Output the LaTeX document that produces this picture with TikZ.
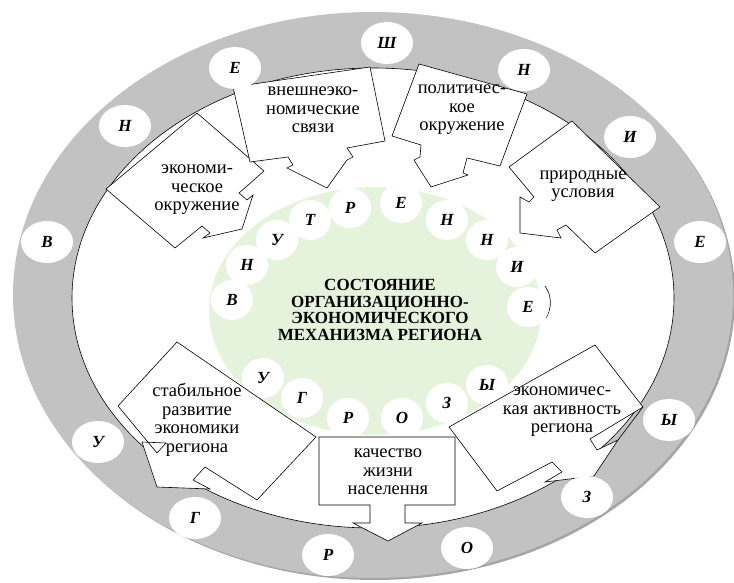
\documentclass[tikz,border=0pt]{standalone}
\usepackage{fontspec}
\setmainfont{Liberation Serif}
\usetikzlibrary{shapes.geometric}
\definecolor{ringgray}{RGB}{194,194,194}
\definecolor{ringshade}{RGB}{165,165,165}
\definecolor{paleleaf}{RGB}{230,243,220}

\begin{document}
\begin{tikzpicture}[
    x = 1pt, y = -1pt,
    letter/.style = {ellipse, fill = white, minimum width = 52pt, minimum height = 42pt, inner sep = 0pt,
                     font = \fontsize{17}{17}\selectfont\bfseries\itshape},
    inletter/.style = {letter, minimum width = 42pt, minimum height = 40pt},
    callout/.style = {draw, fill = white, line width = .6pt, line join = miter},
    caption/.style = {align = center, inner sep = 0pt, font = \fontsize{18.5}{18.5}\selectfont}]

\useasboundingbox (0,0) rectangle (734,583);

% outer ring
\fill[ringshade] (375,297) ellipse [x radius = 360, y radius = 283];
\fill[ringgray] (373,295) ellipse [x radius = 360, y radius = 283];
\draw[line width = .6pt, fill = white] (373,298) ellipse [x radius = 301, y radius = 230];

% core
\fill[paleleaf] (375,311) ellipse [x radius = 166, y radius = 124];
\draw[line width = .6pt] (545,286) .. controls (552,296) and (552,308) .. (546,318);

\node[inletter] (iv)  at (232,300) {В};
\node[inletter] (in1) at (247,265) {Н};
\node[inletter] (iu)  at (277,240) {У};
\node[inletter] (it)  at (310,220) {Т};
\node[inletter] (ir)  at (350,208) {Р};
\node[inletter] (ie1) at (401,203) {Е};
\node[inletter] (in2) at (447,220) {Н};
\node[inletter] (in3) at (487,240) {Н};
\node[inletter] (ii)  at (517,267) {И};
\node[inletter] (ie2) at (528,307) {Е};

\node[inletter] (iu2) at (263,378) {У};
\node[inletter] (ig)  at (302,398) {Г};
\node[inletter] (ir2) at (348,418) {Р};
\node[inletter] (io)  at (402,418) {О};
\node[inletter] (iz)  at (447,403) {З};
\node[inletter] (iy)  at (487,385) {Ы};

\node[align = center, inner sep = 0pt, font = \fontsize{17}{16.7}\selectfont\bfseries] (core) at (380,310)
    {СОСТОЯНИЕ\\ОРГАНИЗАЦИОННО-\\ЭКОНОМИЧЕСКОГО\\МЕХАНИЗМА РЕГИОНА};

% factors
\draw[callout] (197,113) -- (106,189) -- (175,248) -- (202,226) -- (210,233) -- (203,238)
    -- (242,229) -- (253,195) -- (247,200) -- (239,193) -- (264,171) -- cycle;
\node[caption] (econenv) at (197,190) {экономи-\\ческое\\окружение};

\draw[callout] (233,87) -- (370,67) -- (385,141) -- (347,148) -- (353,157) -- (347,160)
    -- (327,188) -- (287,168) -- (293,165) -- (288,157) -- (250,162) -- cycle;
\node[caption] (foreign) at (313,110) {внешнеэко-\\номические\\связи};

\draw[callout] (419,64) -- (527,94) -- (500,166) -- (467,158) -- (463,173) -- (468,175)
    -- (431,187) -- (414,160) -- (420,157) -- (421,145) -- (392,136) -- cycle;
\node[caption] (politenv) at (462,110) {политичес-\\кое\\окружение};

\draw[callout] (572,121) -- (660,207) -- (595,253) -- (566,225) -- (557,230) -- (561,238)
    -- (520,233) -- (520,197) -- (529,202) -- (534,197) -- (509,167) -- cycle;
\node[caption] (nature) at (583,186) {природные\\условия};

% results
\draw[callout] (177,342) -- (118,406) -- (157,453) -- (166,443) -- (142,442) -- (157,487)
    -- (210,489) -- (193,480) -- (205,467) -- (257,500) -- (316,437) -- cycle;
\node[caption] (stable) at (197,420) {стабильное\\развитие\\экономики\\региона};

\draw[callout] (319,437) -- (455,437) -- (455,505) -- (405,505) -- (405,523) -- (422,523)
    -- (388,541) -- (353,523) -- (370,523) -- (370,505) -- (319,505) -- cycle;
\node[caption] (life) at (388,472) {качество\\жизни\\населення};

\draw[callout] (449,427) -- (595,345) -- (643,407) -- (590,439) -- (597,450) -- (618,440)
    -- (594,476) -- (545,482) -- (562,472) -- (552,462) -- (497,491) -- cycle;
\draw[line width = .6pt] (643,407) -- (618,440);
\node[caption] (activity) at (562,412) {экономичес-\\кая активность\\региона};

% outer letters
\node[letter] (ov)  at (47,242)  {В};
\node[letter] (on1) at (125,126) {Н};
\node[letter] (oe1) at (235,68)  {Е};
\node[letter] (osh) at (387,43)  {Ш};
\node[letter] (on2) at (524,70)  {Н};
\node[letter] (oi)  at (630,137) {И};
\node[letter] (oe2) at (700,242) {Е};

\node[letter] (ou)  at (98,442)  {У};
\node[letter] (og)  at (195,518) {Г};
\node[letter] (or)  at (328,555) {Р};
\node[letter] (oo)  at (467,548) {О};
\node[letter] (oz)  at (587,497) {З};
\node[letter] (oy)  at (669,420) {Ы};

\end{tikzpicture}
\end{document}
